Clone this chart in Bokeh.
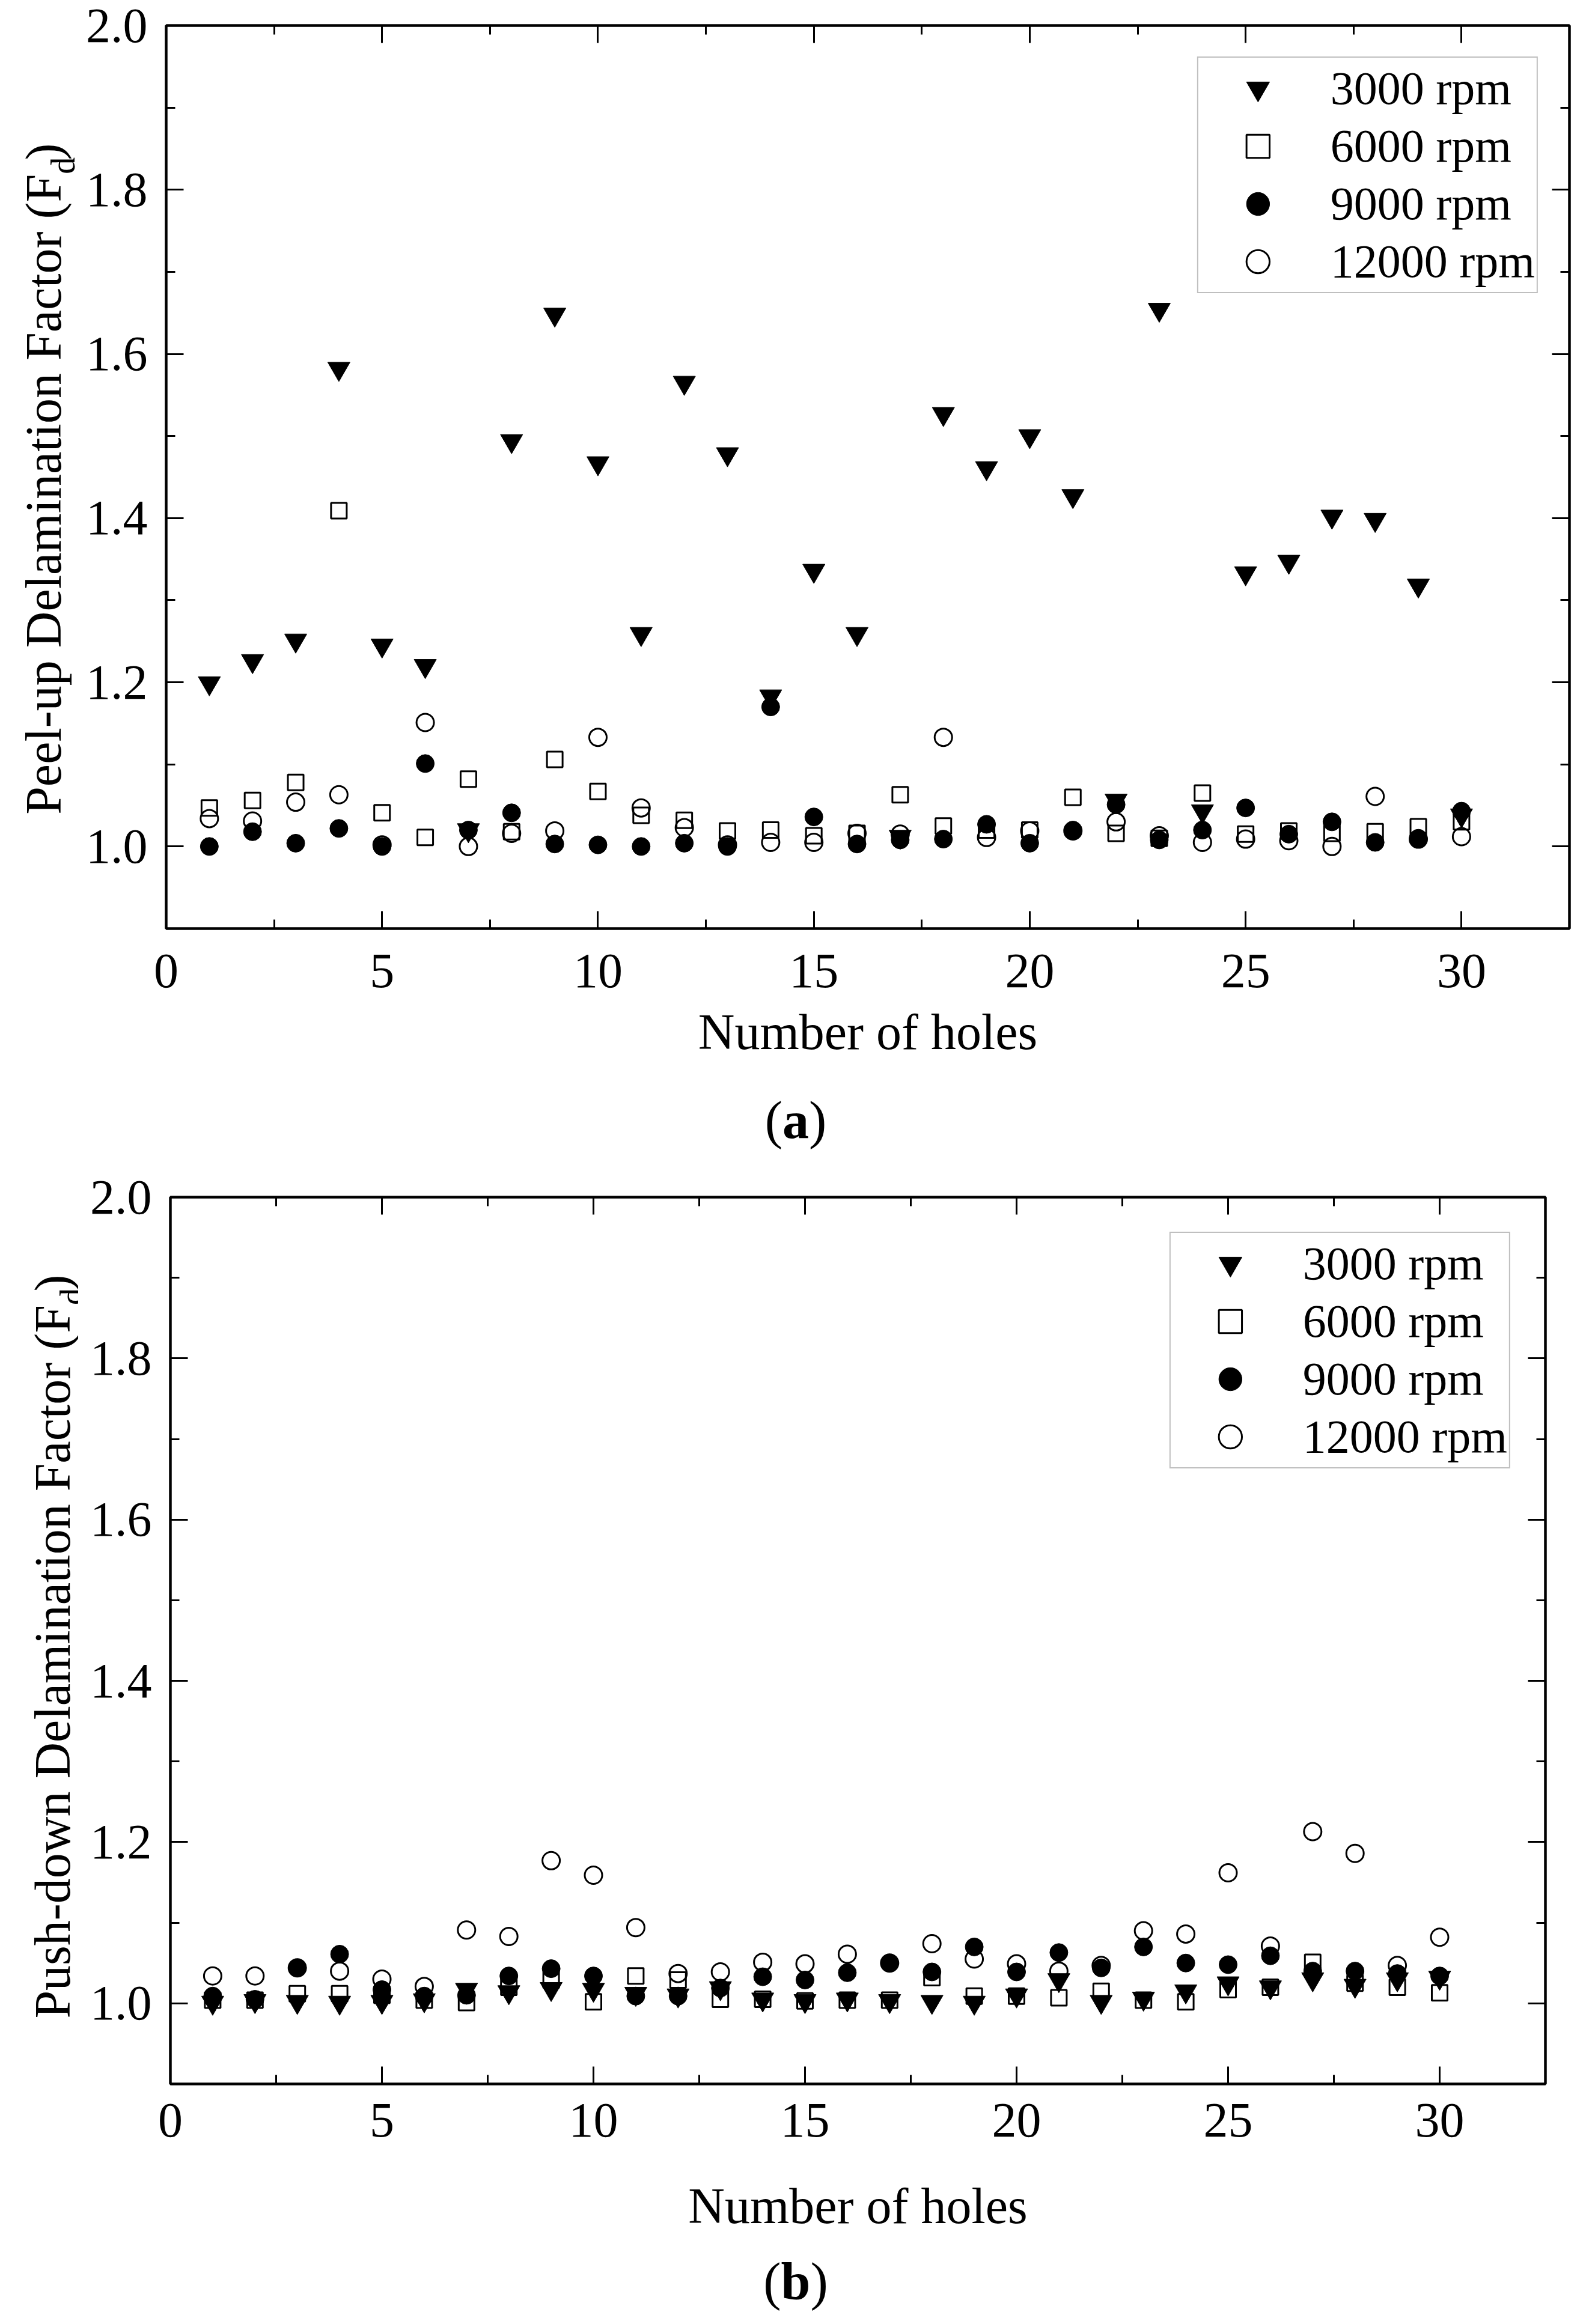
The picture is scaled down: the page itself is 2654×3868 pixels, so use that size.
import numpy as np
from bokeh.plotting import figure
from bokeh.models import (FixedTicker, LinearAxis, Range1d, Legend, LegendItem,
                          Div, CustomJSTickFormatter, PrintfTickFormatter)
from bokeh.layouts import column, row
from bokeh.core.properties import value
from bokeh.embed import file_html
from bokeh.resources import INLINE

# ---------------- data ----------------
holes = list(range(1, 31))
series_labels = ["3000 rpm", "6000 rpm", "9000 rpm", "12000 rpm"]

peel_3000 = [1.199, 1.226, 1.251, 1.582, 1.245, 1.220, 1.020, 1.494, 1.648, 1.467,
             1.259, 1.565, 1.478, 1.183, 1.336, 1.259, 1.012, 1.527, 1.461, 1.500,
             1.427, 1.056, 1.654, 1.043, 1.333, 1.347, 1.402, 1.398, 1.318, 1.038]
peel_6000 = [1.047, 1.056, 1.078, 1.409, 1.041, 1.011, 1.082, 1.018, 1.106, 1.067,
             1.038, 1.032, 1.019, 1.020, 1.013, 1.016, 1.063, 1.025, 1.020, 1.020,
             1.060, 1.016, 1.010, 1.065, 1.015, 1.019, 1.016, 1.018, 1.024, 1.030]
peel_9000 = [1.000, 1.018, 1.004, 1.022, 1.000, 1.101, 1.020, 1.041, 1.003, 1.002,
             1.000, 1.004, 1.000, 1.170, 1.036, 1.003, 1.008, 1.009, 1.027, 1.004,
             1.020, 1.051, 1.008, 1.020, 1.047, 1.015, 1.030, 1.005, 1.010, 1.043]
peel_12000 = [1.034, 1.031, 1.054, 1.063, 1.002, 1.151, 1.000, 1.016, 1.019, 1.133,
              1.047, 1.023, 1.002, 1.005, 1.005, 1.016, 1.015, 1.133, 1.011, 1.019,
              1.019, 1.030, 1.013, 1.005, 1.009, 1.007, 1.000, 1.061, 1.009, 1.012]

push_3000 = [1.001, 1.003, 1.002, 1.001, 1.002, 1.004, 1.017, 1.014, 1.018, 1.017,
             1.012, 1.010, 1.019, 1.005, 1.003, 1.005, 1.003, 1.002, 1.001, 1.010,
             1.029, 1.002, 1.006, 1.015, 1.025, 1.020, 1.030, 1.022, 1.030, 1.032]
push_6000 = [1.004, 1.004, 1.012, 1.012, 1.010, 1.004, 1.001, 1.020, 1.029, 1.002,
             1.034, 1.029, 1.005, 1.005, 1.003, 1.004, 1.004, 1.032, 1.009, 1.009,
             1.007, 1.015, 1.004, 1.002, 1.017, 1.020, 1.051, 1.025, 1.020, 1.013]
push_9000 = [1.009, 1.005, 1.044, 1.061, 1.017, 1.009, 1.010, 1.034, 1.043, 1.034,
             1.009, 1.009, 1.019, 1.033, 1.029, 1.038, 1.050, 1.039, 1.070, 1.039,
             1.063, 1.044, 1.070, 1.050, 1.048, 1.059, 1.040, 1.040, 1.037, 1.034]
push_12000 = [1.034, 1.034, 1.044, 1.040, 1.030, 1.021, 1.091, 1.083, 1.177, 1.159,
              1.094, 1.037, 1.039, 1.051, 1.049, 1.061, 1.050, 1.074, 1.055, 1.049,
              1.040, 1.047, 1.090, 1.086, 1.162, 1.071, 1.213, 1.186, 1.047, 1.082]

x_ticks = [0, 5, 10, 15, 20, 25, 30]
x_minor = [2.5, 7.5, 12.5, 17.5, 22.5, 27.5, 32.5]
y_ticks = [1.0, 1.2, 1.4, 1.6, 1.8, 2.0]
y_minor = [0.9, 1.1, 1.3, 1.5, 1.7, 1.9]
x_lim = (0, 32.5)
y_lim = (0.9, 2.0)

FONT = "Liberation Serif"
PAGE_W = 2638
LABEL_W = 130   # width of the strip that carries the vertical axis title

# Times/Liberation Serif advance widths (em) for the title text
_W = {'P': .556, 'e': .444, 'l': .278, '-': .333, 'u': .5, 'p': .5, ' ': .25, 'D': .722,
      'a': .444, 'm': .778, 'i': .278, 'n': .5, 't': .278, 'o': .5, 'F': .556, 'c': .444,
      'r': .333, '(': .333, ')': .333, 's': .389, 'h': .5, 'd': .5, 'w': .722}


def text_width(s):
    return sum(_W.get(ch, .5) for ch in s)


def make_ylabel_strip(fig_top, height, main_text, start_py, base_px, sub_px):
    """Vertical axis title 'xxx (F_d)' drawn in a narrow strip; y data = page px."""
    lf = figure(width=LABEL_W, height=height,
                x_range=Range1d(8, 8 + LABEL_W),
                y_range=Range1d(fig_top + height, fig_top),
                x_axis_type=None, y_axis_type=None,
                output_backend="svg", toolbar_location=None,
                min_border=0, outline_line_color=None,
                background_fill_color="white", border_fill_color="white")
    main_fs, sub_fs = 84, 56
    end_py = start_py - text_width(main_text) * main_fs
    lf.text(x=[base_px], y=[end_py], text=[main_text], angle=np.pi / 2,
            text_align="right", text_baseline="alphabetic",
            text_font=value(FONT), text_font_size=f"{main_fs}px", text_color="black")
    lf.text(x=[sub_px], y=[end_py], text=["d"], angle=np.pi / 2,
            text_align="left", text_baseline="alphabetic",
            text_font=value(FONT), text_font_size=f"{sub_fs}px", text_color="black")
    lf.text(x=[base_px], y=[end_py - 0.5 * sub_fs], text=[")"], angle=np.pi / 2,
            text_align="left", text_baseline="alphabetic",
            text_font=value(FONT), text_font_size=f"{main_fs}px", text_color="black")
    return lf


def make_panel(series, frame_left, frame_top, frame_w, frame_h, fig_top,
               border_bottom, tick_standoff, label_standoff, legend_margin):
    b_left = frame_left - 8 - LABEL_W
    b_top = frame_top - fig_top
    b_right = PAGE_W - LABEL_W - b_left - frame_w
    p = figure(frame_width=frame_w, frame_height=frame_h,
               x_range=Range1d(*x_lim), y_range=Range1d(*y_lim),
               output_backend="svg", toolbar_location=None,
               min_border_left=b_left, min_border_top=b_top,
               min_border_right=b_right, min_border_bottom=border_bottom,
               background_fill_color="white", border_fill_color="white")
    p.xgrid.visible = False
    p.ygrid.visible = False
    p.outline_line_color = "black"
    p.outline_line_width = 4

    for ax, tk, mn in ((p.xaxis[0], x_ticks, x_minor), (p.yaxis[0], y_ticks, y_minor)):
        ax.ticker = FixedTicker(ticks=tk, minor_ticks=mn)
        ax.axis_line_width = 4
        ax.major_tick_in = 29
        ax.major_tick_out = 0
        ax.minor_tick_in = 15
        ax.minor_tick_out = 0
        ax.major_tick_line_width = 3
        ax.minor_tick_line_width = 3
        ax.major_label_text_font = FONT
        ax.major_label_text_font_size = "82px"
        ax.major_label_text_color = "black"
    p.yaxis[0].formatter = PrintfTickFormatter(format="%.1f")
    p.xaxis[0].major_label_standoff = tick_standoff
    p.yaxis[0].major_label_standoff = 31
    p.xaxis[0].axis_label = "Number of holes"
    p.xaxis[0].axis_label_text_font = FONT
    p.xaxis[0].axis_label_text_font_size = "84px"
    p.xaxis[0].axis_label_text_font_style = "normal"
    p.xaxis[0].axis_label_text_color = "black"
    p.xaxis[0].axis_label_standoff = label_standoff

    for side, tk, mn in (("above", x_ticks, x_minor), ("right", y_ticks, y_minor)):
        ax = LinearAxis(ticker=FixedTicker(ticks=tk, minor_ticks=mn),
                        formatter=CustomJSTickFormatter(code="return ''"),
                        axis_line_width=4, major_tick_in=29, major_tick_out=0,
                        minor_tick_in=15, minor_tick_out=0,
                        major_tick_line_width=3, minor_tick_line_width=3,
                        major_label_text_font_size="1px", major_label_standoff=0)
        p.add_layout(ax, side)

    v3, v6, v9, v12 = series
    r3 = p.scatter(holes, v3, marker="inverted_triangle", size=37,
                   fill_color="black", line_color="black", line_width=1)
    r6 = p.scatter(holes, v6, marker="square", size=26,
                   fill_color=None, line_color="black", line_width=3)
    r9 = p.scatter(holes, v9, marker="circle", size=30,
                   fill_color="black", line_color="black", line_width=1)
    r12 = p.scatter(holes, v12, marker="circle", size=29,
                    fill_color=None, line_color="black", line_width=3)

    items = [LegendItem(label=lab, renderers=[r])
             for lab, r in zip(series_labels, [r3, r6, r9, r12])]
    leg = Legend(items=items, location="top_right", margin=legend_margin,
                 padding=3, spacing=0, glyph_width=192, glyph_height=96,
                 label_standoff=25, label_text_font=FONT,
                 label_text_font_size="78px", label_text_color="black",
                 border_line_color="#7f7f7f", border_line_width=2,
                 background_fill_color="white", background_fill_alpha=1.0)
    p.add_layout(leg)
    return p


# ---------------- panel (a) ----------------
F1_TOP, F1_FRAME_TOP, F1_FRAME_H, F1_BB = 8, 50, 1503, 265
p1 = make_panel((peel_3000, peel_6000, peel_9000, peel_12000),
                frame_left=284, frame_top=F1_FRAME_TOP, frame_w=2335, frame_h=F1_FRAME_H,
                fig_top=F1_TOP, border_bottom=F1_BB, tick_standoff=43, label_standoff=25,
                legend_margin=52)
h1 = (F1_FRAME_TOP - F1_TOP) + F1_FRAME_H + F1_BB
l1 = make_ylabel_strip(F1_TOP, h1, "Peel-up Delamination Factor (F",
                       start_py=1372, base_px=80, sub_px=112)

cap_a = Div(text='<div style="width:2638px;text-align:center;font-family:\'Liberation Serif\';'
                 'font-size:88px;line-height:1;padding-top:6px;color:black;">(<b>a</b>)</div>',
            width=PAGE_W, height=115)

# ---------------- panel (b) ----------------
F2_TOP, F2_FRAME_TOP, F2_FRAME_H, F2_BB = 1933, 1990, 1476, 295
p2 = make_panel((push_3000, push_6000, push_9000, push_12000),
                frame_left=291, frame_top=F2_FRAME_TOP, frame_w=2288, frame_h=F2_FRAME_H,
                fig_top=F2_TOP, border_bottom=F2_BB, tick_standoff=33, label_standoff=66,
                legend_margin=58)
h2 = (F2_FRAME_TOP - F2_TOP) + F2_FRAME_H + F2_BB
l2 = make_ylabel_strip(F2_TOP, h2, "Push-down Delamination Factor (F",
                       start_py=3343, base_px=95, sub_px=127)

cap_b = Div(text='<div style="width:2638px;text-align:center;font-family:\'Liberation Serif\';'
                 'font-size:88px;line-height:1;margin-top:-14px;color:black;">(<b>b</b>)</div>',
            width=PAGE_W, height=95)

layout = column(row(l1, p1, spacing=0), cap_a, row(l2, p2, spacing=0), cap_b, spacing=0)

open("out.html", "w").write(file_html(layout, INLINE))
